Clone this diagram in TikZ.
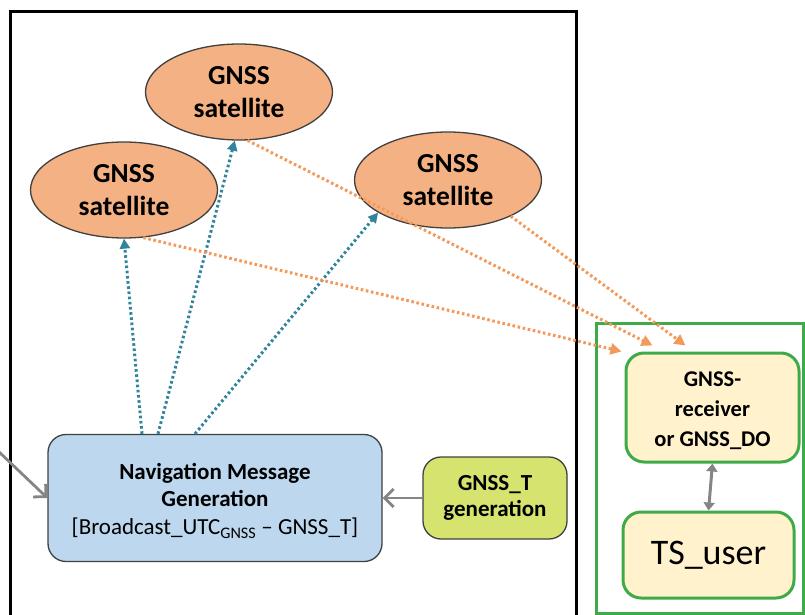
\documentclass[tikz,border=0pt]{standalone}
\usepackage{fontspec}
\setmainfont{Carlito}
\usetikzlibrary{arrows.meta,shapes.geometric}

\definecolor{satfill}{HTML}{F4B183}
\definecolor{navfill}{HTML}{BDD7EE}
\definecolor{limefill}{HTML}{D6E36F}
\definecolor{rxfill}{HTML}{FFF2CC}
\definecolor{framegreen}{HTML}{3FAA48}
\definecolor{uplink}{HTML}{31849B}
\definecolor{downlink}{HTML}{F39A5B}
\definecolor{edgegray}{HTML}{404040}
\definecolor{arrowgray}{HTML}{858585}

\tikzset{
  sat/.style={ellipse, draw=edgegray, line width=1.3pt, fill=satfill,
    minimum width=187pt, minimum height=96pt, inner sep=0pt, align=center,
    font=\fontsize{27.5}{33}\selectfont\bfseries},
  procbox/.style={rectangle, rounded corners=18pt, draw=edgegray, line width=1.3pt,
    align=center, inner sep=0pt},
  rxbox/.style={rectangle, rounded corners=18pt, draw=framegreen, line width=3pt,
    fill=rxfill, align=center, inner sep=0pt},
  uparrow/.style={draw=uplink, line width=3pt, dash pattern=on 2.6pt off 2.6pt,
    -{Triangle[length=10pt,width=10pt]}},
  downarrow/.style={draw=downlink, line width=3pt, dash pattern=on 2.6pt off 2.6pt,
    -{Triangle[length=11pt,width=11pt]}},
  feed/.style={draw=arrowgray, line width=2.8pt,
    -{Straight Barb[length=9pt,width=18pt]}},
  link/.style={draw=arrowgray, line width=3pt,
    {Triangle[length=8pt,width=11pt]}-{Triangle[length=8pt,width=11pt]}}
}

\begin{document}
\begin{tikzpicture}[x=1pt,y=-1pt]
  \useasboundingbox (0,0) rectangle (805,615);
  \begin{scope}
    \clip (0,0) rectangle (805,615);
    % system frame
    \draw[line width=3pt] (10,12) rectangle (576,640);
    % user frame
    \draw[framegreen, line width=3pt] (596,323) rectangle (803,613);
  \end{scope}

  % satellites
  \node[sat] (topsat)   at (239,92)  {GNSS\\satellite};
  \node[sat] (leftsat)  at (124,190) {GNSS\\satellite};
  \node[sat] (rightsat) at (448,180) {GNSS\\satellite};

  % ground segment
  \node[procbox, fill=navfill, minimum width=334pt, minimum height=127pt,
        font=\fontsize{23}{26.5}\selectfont] (nav) at (215,498) {};
  \node[align=center, font=\fontsize{23}{26.5}\selectfont, inner sep=0pt]
    (navtext) at ([yshift=-3pt]nav.center)
    {\textbf{Navigation Message}\\\textbf{Generation}\\[2pt]
     {[}Broadcast\_UTC\textsubscript{GNSS} -- GNSS\_T{]}};
  \node[procbox, fill=limefill, minimum width=144pt, minimum height=82pt,
        font=\fontsize{23}{26}\selectfont\bfseries] (gnsst) at (495,498)
    {GNSS\_T\\generation};

  % user side
  \node[rxbox, minimum width=173pt, minimum height=109pt] (recv) at (712.5,407.5) {};
  \node[align=center, font=\fontsize{22.5}{30}\selectfont\bfseries, inner sep=0pt]
    (recvtext) at ([yshift=-3pt]recv.center) {GNSS-\\receiver\\or GNSS\_DO};
  \node[rxbox, minimum width=171pt, minimum height=86pt,
        font=\fontsize{36}{40}\selectfont] (tsuser) at (708.5,555) {TS\_user};

  % external input
  \coordinate (ext) at (-3,450);
  \draw[feed] (ext) -- (nav.west);
  \draw[feed] (gnsst.west) -- (nav.east);

  % uplinks
  \draw[uparrow] ([xshift=-73pt]nav.north) -- (leftsat.south);
  \draw[uparrow] ([xshift=-57pt]nav.north) -- (topsat.265);
  \draw[uparrow] ([xshift=-20pt]nav.north) -- (rightsat.205);

  % downlinks
  \draw[downarrow] (leftsat.292) -- ([xshift=-3pt]recv.north west);
  \draw[downarrow] (topsat.280) -- ([xshift=-60pt,yshift=6pt]recv.north);
  \draw[downarrow] (rightsat.330) -- ([xshift=-27pt,yshift=6pt]recv.north);

  % receiver to user
  \draw[link] (recv.south) -- (tsuser.north);
\end{tikzpicture}
\end{document}
